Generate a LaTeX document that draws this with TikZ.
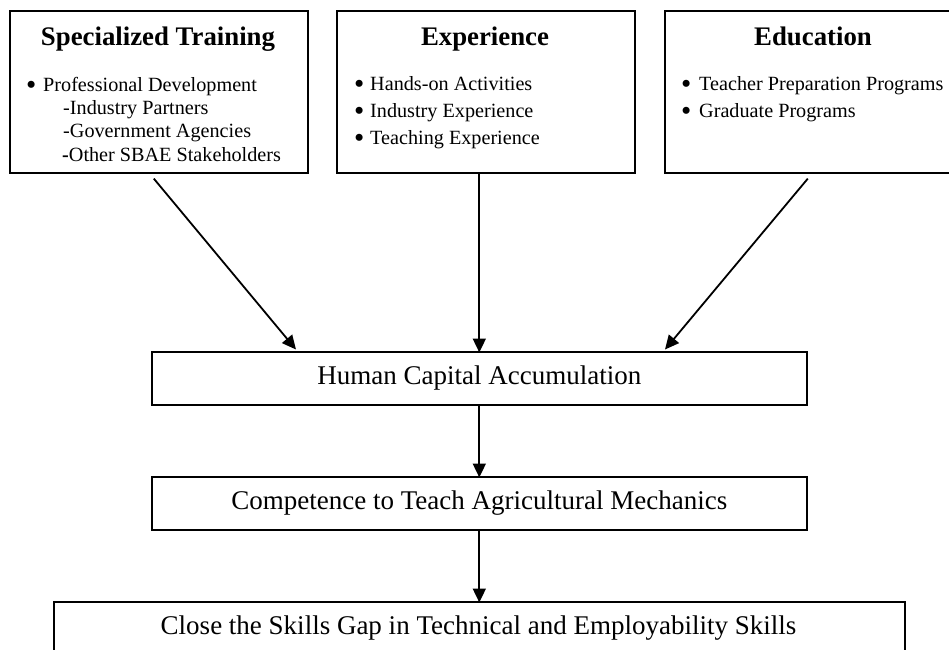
\documentclass[tikz,border=0pt]{standalone}
\usepackage{fontspec}
\usepackage{graphicx}
\setmainfont{Liberation Serif}
\usetikzlibrary{arrows.meta,calc}

% list bullet, a little heavier than the plain text bullet
\newcommand{\listdot}[1]{\makebox[#1][l]{\raisebox{-3.2pt}{\scalebox{1.45}{\textbullet}}}}

\begin{document}
\begin{tikzpicture}[x=1pt,y=-1pt,
  box/.style={draw, line width=1.6pt, inner sep=0pt, anchor=north west, minimum width=298pt, minimum height=162pt},
  stagebox/.style={draw, line width=1.6pt, inner sep=0pt, anchor=north west, minimum width=655pt, minimum height=53pt,
    font=\fontsize{27}{32}\selectfont},
  boxtitle/.style={font=\fontsize{26.8}{30}\selectfont\bfseries, anchor=base, inner sep=0pt},
  entry/.style={font=\fontsize{20.2}{24}\selectfont, anchor=base west, inner sep=0pt},
  stagetext/.style={font=\fontsize{27}{32}\selectfont, anchor=base, inner sep=0pt},
  link/.style={line width=1.8pt, -{Triangle[length=14pt,width=13pt]}}]

\useasboundingbox (0,0) rectangle (949,649);
\clip (0,0) rectangle (949,649);

% three source boxes
\node[box] (st) at (9,10) {};
\node[box] (ex) at (336,10) {};
\node[box] (ed) at (664,10) {};

\node[boxtitle] (sttitle) at (158,45.5) {Specialized Training};
\node[entry] (st1) at (26,91) {\listdot{17pt}Professional Development};
\node[entry] (st2) at (63,114) {-Industry Partners};
\node[entry] (st3) at (63,137.5) {-Government Agencies};
\node[entry] (st4) at (62,161) {\textbf{-}Other SBAE Stakeholders};

\node[boxtitle] (extitle) at (485,45.5) {Experience};
\node[entry] (ex1) at (354,90.5) {\listdot{16pt}Hands-on Activities};
\node[entry] (ex2) at (354,117.5) {\listdot{16pt}Industry Experience};
\node[entry] (ex3) at (354,144.5) {\listdot{16pt}Teaching Experience};

\node[boxtitle] (edtitle) at (813,45.5) {Education};
\node[entry] (ed1) at (681,90.5) {\listdot{18pt}Teacher Preparation Programs};
\node[entry] (ed2) at (681,117.5) {\listdot{18pt}Graduate Programs};

% stages
\node[stagebox] (hca) at (151,351) {Human Capital Accumulation};
\node[stagebox] (comp) at (151,476) {Competence to Teach Agricultural Mechanics};
\node[draw, line width=1.6pt, inner sep=0pt, anchor=north west, minimum width=851pt, minimum height=70pt] (close) at (53,601) {};
\node[stagetext] (closetext) at (478.5,634) {Close the Skills Gap in Technical and Employability Skills};

% connectors
\coordinate (in1) at (296,349.5);
\coordinate (in3) at (665,349.5);
\draw[link] ($(st.south)+(-5,5)$) -- (in1);
\draw[link] (ex.south -| hca.north) -- ([yshift=-1.5pt]hca.north);
\draw[link] ($(ed.south)+(-6,5)$) -- (in3);
\draw[link] (hca.south) -- ([yshift=-1.5pt]comp.north);
\draw[link] (comp.south) -- ([yshift=-1.5pt]close.north);
\end{tikzpicture}
\end{document}
